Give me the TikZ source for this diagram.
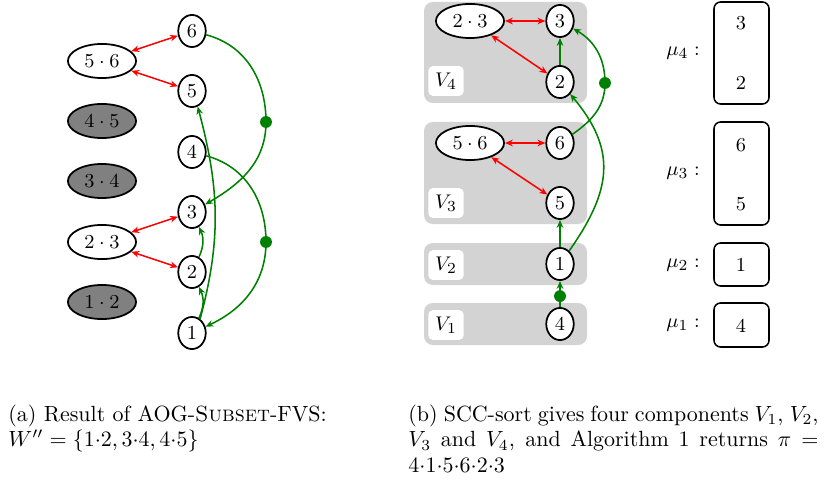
\documentclass[tikz,border=0pt]{standalone}
\usetikzlibrary{shapes.geometric,arrows.meta}
\definecolor{boxgray}{RGB}{211,211,211}
\definecolor{dgreen}{RGB}{0,128,0}
\definecolor{pgray}{RGB}{128,128,128}
\tikzset{
  nfont/.style={font=\fontsize{9.5}{11}\selectfont},
  vnode/.style={ellipse, draw, line width=0.8pt, fill=white, minimum width=12.5pt, minimum height=14.6pt, inner sep=0pt, nfont},
  pnode/.style={ellipse, draw, line width=0.8pt, fill=white, minimum width=31pt, minimum height=15.5pt, inner sep=0pt, nfont},
  gpnode/.style={pnode, fill=pgray},
  redge/.style={red, line width=0.7pt, {Stealth[length=3.6pt,width=3pt]}-{Stealth[length=3.6pt,width=3pt]}},
  gedge/.style={dgreen, line width=0.7pt, -{Stealth[length=3.6pt,width=3pt]}},
  gdot/.style={circle, fill=dgreen, inner sep=0pt, minimum size=5.4pt},
  vlabel/.style={fill=white, rounded corners=2pt, minimum width=16pt, minimum height=13.5pt, inner sep=0pt, nfont},
  compbox/.style={fill=boxgray, rounded corners=4pt},
  mubox/.style={draw, line width=0.7pt, rounded corners=3pt},
  numtext/.style={inner sep=0pt, nfont},
  caption/.style={anchor=base west, inner sep=0pt, font=\fontsize{10}{11.8}\selectfont},
}
\begin{document}
\begin{tikzpicture}[x=0.455pt, y=-0.455pt]
\useasboundingbox (0,0) rectangle (828,482);

% ---------- (a) ----------
\node[vnode] (a6) at (192,31) {$6$};
\node[vnode] (a5) at (192,91) {$5$};
\node[vnode] (a4) at (192,152) {$4$};
\node[vnode] (a3) at (192,212) {$3$};
\node[vnode] (a2) at (192,272) {$2$};
\node[vnode] (a1) at (192,333) {$1$};

\node[pnode]  (a56) at (102,61)  {$5\cdot 6$};
\node[gpnode] (a45) at (102,121) {$4\cdot 5$};
\node[gpnode] (a34) at (102,181) {$3\cdot 4$};
\node[pnode]  (a23) at (102,242) {$2\cdot 3$};
\node[gpnode] (a12) at (102,302) {$1\cdot 2$};

\draw[redge] (a56) -- (a6);
\draw[redge] (a56) -- (a5);
\draw[redge] (a23) -- (a3);
\draw[redge] (a23) -- (a2);

\coordinate (ad1) at (266,122);
\coordinate (ad2) at (266,242);
\draw[gedge] (a6) to[out=-15, in=90] (ad1) to[out=-90, in=30] (a3);
\draw[gedge] (a4) to[out=-15, in=90] (ad2) to[out=-90, in=25] (a1);
\node[gdot] at (ad1) {};
\node[gdot] at (ad2) {};
\draw[gedge] (a1.65) to[bend right=25] (a2.-65);
\draw[gedge] (a2.65) to[bend right=25] (a3.-65);
\draw[gedge] (a1.60) to[out=75, in=-75] (a5.-70);

% ---------- (b) ----------
\fill[compbox] (424,2) rectangle (587,103);
\fill[compbox] (424,122) rectangle (587,224);
\fill[compbox] (424,243) rectangle (587,285);
\fill[compbox] (424,303) rectangle (587,345);

\node[vlabel] (L4) at (446,81)  {$V_4$};
\node[vlabel] (L3) at (446,203) {$V_3$};
\node[vlabel] (L2) at (446,265) {$V_2$};
\node[vlabel] (L1) at (446,325) {$V_1$};

\node[vnode] (b3) at (560,21)  {$3$};
\node[vnode] (b2) at (560,82)  {$2$};
\node[vnode] (b6) at (560,143) {$6$};
\node[vnode] (b5) at (560,203) {$5$};
\node[vnode] (b1) at (560,264) {$1$};
\node[vnode] (b4) at (560,324) {$4$};

\node[pnode] (b23) at (470,21)  {$2\cdot 3$};
\node[pnode] (b56) at (470,143) {$5\cdot 6$};

\draw[redge] (b23) -- (b3);
\draw[redge] (b23) -- (b2);
\draw[redge] (b56) -- (b6);
\draw[redge] (b56) -- (b5);

\draw[gedge] (b2) -- (b3);
\draw[gedge] (b1) -- (b5);
\draw[gedge] (b4) -- node[gdot, pos=0.42] {} (b1);
\coordinate (bd3) at (605,83);
\draw[gedge] (b6) to[out=35, in=-90] (bd3) to[out=90, in=-30] (b3);
\node[gdot] at (bd3) {};
\draw[gedge] (b1) to[out=55, in=-50, looseness=1.2] (b2);

% ---------- mu ----------
\node[nfont] (mu4) at (683,53)  {$\mu_4 :$};
\node[nfont] (mu3) at (683,173) {$\mu_3 :$};
\node[nfont] (mu2) at (683,265) {$\mu_2 :$};
\node[nfont] (mu1) at (683,325) {$\mu_1 :$};
\draw[mubox] (714,2) rectangle (769,104);
\draw[mubox] (714,122) rectangle (769,225);
\draw[mubox] (714,243) rectangle (769,286);
\draw[mubox] (714,303) rectangle (769,347);
\node[numtext] (m43) at (741,23)  {$3$};
\node[numtext] (m42) at (741,83)  {$2$};
\node[numtext] (m36) at (741,145) {$6$};
\node[numtext] (m35) at (741,204) {$5$};
\node[numtext] (m21) at (741,265) {$1$};
\node[numtext] (m14) at (741,326) {$4$};

% ---------- captions ----------
\node[caption] (capa) at (8,421) {\parbox[t]{175pt}{\raggedright (a) Result of AOG-\textsc{Subset}-FVS:\\ $W''=\{1{\cdot}2, 3{\cdot}4, 4{\cdot}5\}$}};
\node[caption] (capb) at (408,421) {\parbox[t]{186.6pt}{(b) SCC-sort gives four components $V_1$, $V_2$,\linebreak $V_3$ and $V_4$, and Algorithm 1 returns $\pi =$\linebreak $4{\cdot}1{\cdot}5{\cdot}6{\cdot}2{\cdot}3$}};
\end{tikzpicture}
\end{document}
